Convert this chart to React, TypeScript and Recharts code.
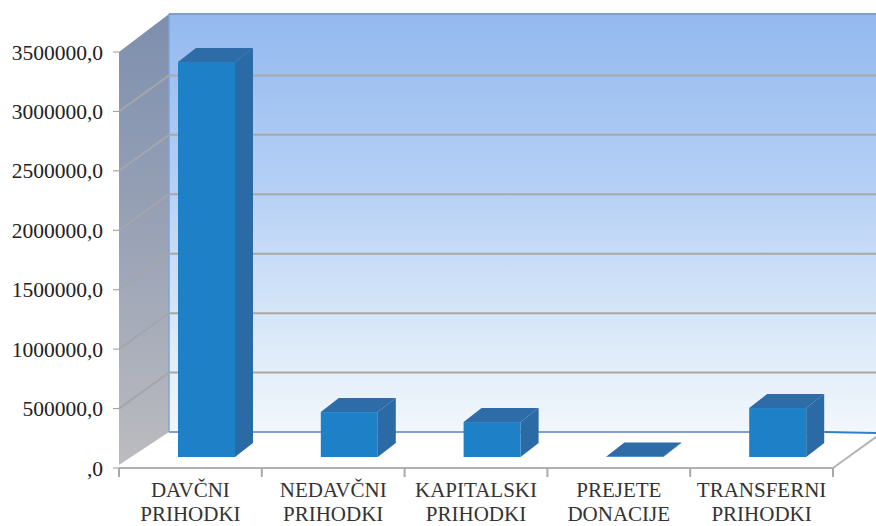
import { BarChart, Bar, XAxis, YAxis, CartesianGrid, usePlotArea } from 'recharts';

const categories = ['DAVČNI PRIHODKI', 'NEDAVČNI PRIHODKI', 'KAPITALSKI PRIHODKI', 'PREJETE DONACIJE', 'TRANSFERNI PRIHODKI'];
const values = [3323000, 378000, 294000, 5000, 412000];
const valueTicks = [0, 500000, 1000000, 1500000, 2000000, 2500000, 3000000, 3500000];

const data = categories.map((name, i) => ({ name, value: values[i] }));

// 3D look: depth of the box, and how far bars sit behind the front edge
const DEPTH_X = 50;
const DEPTH_Y = 36;
const BAR_DX = 16;
const BAR_DY = 11;
const BOX_X = 18;
const BOX_Y = 14;

const FONT = '"Liberation Serif", serif';

function Walls() {
    const area = usePlotArea();
    if (!area) return null;
    const { x, y, width, height } = area;
    const left = x + DEPTH_X;
    const top = y - DEPTH_Y - 2;
    const floor = y + height - DEPTH_Y;
    return (
        <g>
            <defs>
                <linearGradient id="backWall" x1="0" y1="0" x2="0" y2="1">
                    <stop offset="0" stopColor="#93b9ef" />
                    <stop offset="0.4" stopColor="#b4cff5" />
                    <stop offset="0.75" stopColor="#d9e8f8" />
                    <stop offset="1" stopColor="#f2f7fc" />
                </linearGradient>
                <linearGradient id="sideWall" x1="0" y1="0" x2="0" y2="1">
                    <stop offset="0" stopColor="#7d8fae" />
                    <stop offset="0.5" stopColor="#9aa3b6" />
                    <stop offset="1" stopColor="#bcbcc0" />
                </linearGradient>
            </defs>
            <rect x={left} y={top} width={width} height={floor - top} fill="url(#backWall)" />
            <line x1={left} y1={top} x2={x + width + DEPTH_X} y2={top} stroke="#7f9fc6" strokeWidth={2} />
            <polygon
                points={`${x},${y} ${left},${top} ${left},${floor} ${x},${y + height - 3}`}
                fill="url(#sideWall)"
            />
            <line x1={left} y1={top} x2={left} y2={floor} stroke="#7fa3d2" strokeWidth={1.5} />
            <line x1={x + width} y1={y + height} x2={x + width + DEPTH_X} y2={floor} stroke="#b4b4b4" strokeWidth={2} />
        </g>
    );
}

function GridLine(props: any) {
    const { x1, x2, y1, index } = props;
    const isFloor = Math.abs(y1 - 468) < 1;
    const isTop = Math.abs(y1 - 52) < 1;
    return (
        <g>
            {index === 0 && <Walls />}
            {!isFloor && !isTop && (
                <line x1={x1} y1={y1} x2={x1 + DEPTH_X} y2={y1 - DEPTH_Y} stroke="#a3a6ac" strokeWidth={2} />
            )}
            {isFloor ? (
                <>
                    <line x1={x1 + DEPTH_X} y1={y1 - DEPTH_Y} x2={x2 - 8} y2={y1 - DEPTH_Y} stroke="#7ea2d0" strokeWidth={2} />
                    <line x1={x2 - 8} y1={y1 - DEPTH_Y} x2={x2 + DEPTH_X} y2={y1 - DEPTH_Y + 1} stroke="#2f80c8" strokeWidth={2} />
                </>
            ) : (
                !isTop && <line x1={x1 + DEPTH_X} y1={y1 - DEPTH_Y} x2={x2 + DEPTH_X} y2={y1 - DEPTH_Y} stroke="#a9a8a6" strokeWidth={2} />
            )}
        </g>
    );
}

function Box(props: any) {
    const { x, y, width, height } = props;
    const l = x + BAR_DX;
    const r = l + width;
    const t = y - BAR_DY;
    const b = t + height;
    return (
        <g>
            <polygon points={`${r},${b} ${r + BOX_X},${b - BOX_Y} ${r + BOX_X},${t - BOX_Y} ${r},${t}`} fill="#2a6ba6" />
            <polygon points={`${l},${t} ${l + BOX_X},${t - BOX_Y} ${r + BOX_X},${t - BOX_Y} ${r},${t}`} fill="#2d6ca6" />
            <rect x={l} y={t} width={width} height={height} fill="#1e80c6" />
        </g>
    );
}

function CategoryTick(props: any) {
    const { x, index, payload } = props;
    const band = 142.8;
    const words = String(payload.value).split(' ');
    return (
        <g>
            <line x1={x - band / 2} y1={468} x2={x - band / 2} y2={477} stroke="#a9a9a9" strokeWidth={2} />
            {index === categories.length - 1 && (
                <line x1={x + band / 2} y1={468} x2={x + band / 2} y2={477} stroke="#a9a9a9" strokeWidth={2} />
            )}
            <text x={x} y={497} textAnchor="middle" fontFamily={FONT} fontSize={21} fill="#333">
                {words[0]}
            </text>
            <text x={x} y={521} textAnchor="middle" fontFamily={FONT} fontSize={21} fill="#333">
                {words[1]}
            </text>
        </g>
    );
}

export default function App() {
    return (
        <div style={{ position: 'absolute', left: 0, top: 0, width: 876, height: 526, overflow: 'hidden', background: '#fff' }}>
            <BarChart
                width={876}
                height={526}
                data={data}
                barSize={57}
                margin={{ top: 52, right: 43, bottom: 0, left: 0 }}
            >
                <CartesianGrid vertical={false} horizontal={(p: any) => <GridLine key={p.key} {...p} />} />
                <XAxis
                    dataKey="name"
                    interval={0}
                    axisLine={{ stroke: '#b0b0b0', strokeWidth: 2 }}
                    tickLine={false}
                    tick={<CategoryTick />}
                    tickMargin={0}
                    height={58}
                />
                <YAxis
                    width={119}
                    domain={[0, 3500000]}
                    ticks={valueTicks}
                    tickFormatter={(v: number) => (v === 0 ? ',0' : `${v},0`)}
                    axisLine={false}
                    tickLine={{ stroke: '#9a9a9a' }}
                    tickSize={6}
                    tickMargin={10}
                    tick={{ fontFamily: FONT, fontSize: 21.5, fill: '#222' }}
                />
                <Bar dataKey="value" isAnimationActive={false} shape={<Box />} />
            </BarChart>
        </div>
    );
}
